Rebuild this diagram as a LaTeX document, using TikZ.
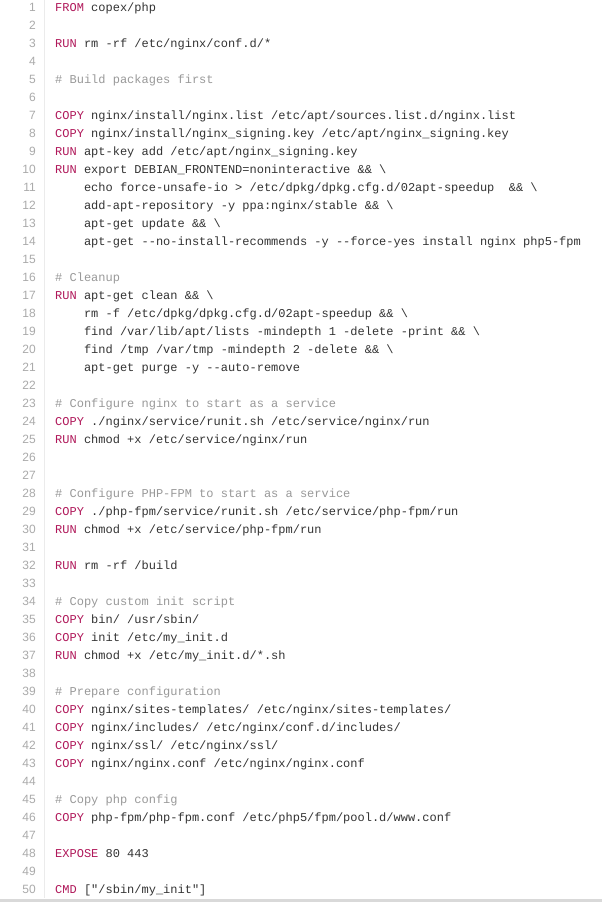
\documentclass[tikz,border=0pt]{standalone}
\usepackage{fontspec}
\setmainfont{Liberation Sans}
\setmonofont{Liberation Mono}
\definecolor{kw}{HTML}{B0185A}
\definecolor{cm}{HTML}{999999}
\definecolor{tx}{HTML}{333333}
\definecolor{ln}{HTML}{AAAAAA}
\newcommand{\K}[1]{\textcolor{kw}{#1}}
\newcommand{\C}[1]{\textcolor{cm}{#1}}
\newcommand{\BS}{\textbackslash}
\begin{document}
\begin{tikzpicture}[x=1pt,y=1pt,
  code/.style={anchor=base west,inner sep=0,font=\ttfamily\fontsize{12}{14}\selectfont,text=tx},
  num/.style={anchor=base east,inner sep=0,font=\fontsize{12}{14}\selectfont,text=ln}]
\fill[white] (0,0) rectangle (602,-902);
\useasboundingbox (0,0) rectangle (602,-902);
\draw[black!8,line width=1] (44,0) -- (44,-898);
\fill[black!15] (0,-899) rectangle (602,-902);
\foreach \i in {1,...,50}{\node[num] (n\i) at (36,{-11-18*(\i-1)}) {\i};}
\def\y#1{{-11-18*(#1-1)}}
\node[code] (l1) at (55,\y{1}) {\K{FROM} copex/php};
\node[code] (l3) at (55,\y{3}) {\K{RUN} rm -rf /etc/nginx/conf.d/*};
\node[code] (l5) at (55,\y{5}) {\C{\# Build packages first}};
\node[code] (l7) at (55,\y{7}) {\K{COPY} nginx/install/nginx.list /etc/apt/sources.list.d/nginx.list};
\node[code] (l8) at (55,\y{8}) {\K{COPY} nginx/install/nginx\_signing.key /etc/apt/nginx\_signing.key};
\node[code] (l9) at (55,\y{9}) {\K{RUN} apt-key add /etc/apt/nginx\_signing.key};
\node[code] (l10) at (55,\y{10}) {\K{RUN} export DEBIAN\_FRONTEND=noninteractive \&\& \BS};
\node[code] (l11) at (83.8,\y{11}) {echo force-unsafe-io > /etc/dpkg/dpkg.cfg.d/02apt-speedup\ \ \&\& \BS};
\node[code] (l12) at (83.8,\y{12}) {add-apt-repository -y ppa:nginx/stable \&\& \BS};
\node[code] (l13) at (83.8,\y{13}) {apt-get update \&\& \BS};
\node[code] (l14) at (83.8,\y{14}) {apt-get -{}-no-install-recommends -y -{}-force-yes install nginx php5-fpm};
\node[code] (l16) at (55,\y{16}) {\C{\# Cleanup}};
\node[code] (l17) at (55,\y{17}) {\K{RUN} apt-get clean \&\& \BS};
\node[code] (l18) at (83.8,\y{18}) {rm -f /etc/dpkg/dpkg.cfg.d/02apt-speedup \&\& \BS};
\node[code] (l19) at (83.8,\y{19}) {find /var/lib/apt/lists -mindepth 1 -delete -print \&\& \BS};
\node[code] (l20) at (83.8,\y{20}) {find /tmp /var/tmp -mindepth 2 -delete \&\& \BS};
\node[code] (l21) at (83.8,\y{21}) {apt-get purge -y -{}-auto-remove};
\node[code] (l23) at (55,\y{23}) {\C{\# Configure nginx to start as a service}};
\node[code] (l24) at (55,\y{24}) {\K{COPY} ./nginx/service/runit.sh /etc/service/nginx/run};
\node[code] (l25) at (55,\y{25}) {\K{RUN} chmod +x /etc/service/nginx/run};
\node[code] (l28) at (55,\y{28}) {\C{\# Configure PHP-FPM to start as a service}};
\node[code] (l29) at (55,\y{29}) {\K{COPY} ./php-fpm/service/runit.sh /etc/service/php-fpm/run};
\node[code] (l30) at (55,\y{30}) {\K{RUN} chmod +x /etc/service/php-fpm/run};
\node[code] (l32) at (55,\y{32}) {\K{RUN} rm -rf /build};
\node[code] (l34) at (55,\y{34}) {\C{\# Copy custom init script}};
\node[code] (l35) at (55,\y{35}) {\K{COPY} bin/ /usr/sbin/};
\node[code] (l36) at (55,\y{36}) {\K{COPY} init /etc/my\_init.d};
\node[code] (l37) at (55,\y{37}) {\K{RUN} chmod +x /etc/my\_init.d/*.sh};
\node[code] (l39) at (55,\y{39}) {\C{\# Prepare configuration}};
\node[code] (l40) at (55,\y{40}) {\K{COPY} nginx/sites-templates/ /etc/nginx/sites-templates/};
\node[code] (l41) at (55,\y{41}) {\K{COPY} nginx/includes/ /etc/nginx/conf.d/includes/};
\node[code] (l42) at (55,\y{42}) {\K{COPY} nginx/ssl/ /etc/nginx/ssl/};
\node[code] (l43) at (55,\y{43}) {\K{COPY} nginx/nginx.conf /etc/nginx/nginx.conf};
\node[code] (l45) at (55,\y{45}) {\C{\# Copy php config}};
\node[code] (l46) at (55,\y{46}) {\K{COPY} php-fpm/php-fpm.conf /etc/php5/fpm/pool.d/www.conf};
\node[code] (l48) at (55,\y{48}) {\K{EXPOSE} 80 443};
\node[code] (l50) at (55,\y{50}) {\K{CMD} ["/sbin/my\_init"]};
\end{tikzpicture}
\end{document}
